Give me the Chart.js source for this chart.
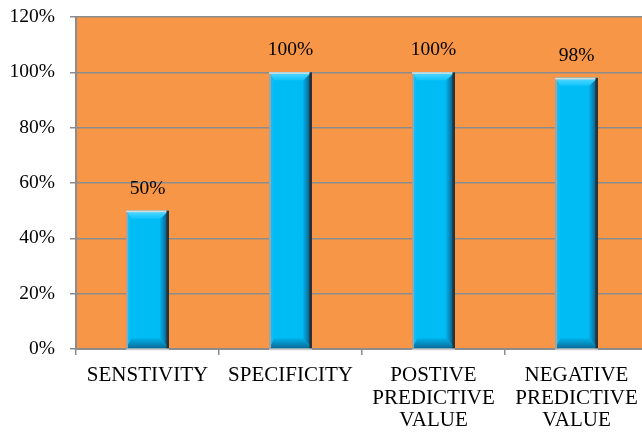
<!DOCTYPE html>
<html>
<head>
<meta charset="utf-8">
<script src="https://cdn.jsdelivr.net/npm/chart.js@4.4.1/dist/chart.umd.min.js"></script>
<style>
  html, body { margin: 0; padding: 0; background: #fff; overflow: hidden; }
  #wrap { width: 648px; height: 437px; }
</style>
</head>
<body>
<div id="wrap"><canvas id="c" width="648" height="437"></canvas></div>
<script>
// Diagnostic accuracy measures (percent)
const categories = [
  ['SENSTIVITY'],
  ['SPECIFICITY'],
  ['POSTIVE', 'PREDICTIVE', 'VALUE'],
  ['NEGATIVE', 'PREDICTIVE', 'VALUE']
];
const values = [50, 100, 100, 98];
const yTicks = [0, 20, 40, 60, 80, 100, 120];

const FONT = '"Liberation Serif", "Times New Roman", serif';
const GRID = '#8c8c8c';

// orange plot background
const plotBg = {
  id: 'plotBg',
  beforeDraw(chart) {
    const { ctx, chartArea: a } = chart;
    ctx.save();
    ctx.fillStyle = '#F79646';
    ctx.fillRect(a.left, a.top, a.right - a.left, a.bottom - a.top);
    ctx.restore();
  }
};

// bevelled look for the columns, plus value labels above them
const bevel = {
  id: 'bevel',
  afterDatasetsDraw(chart) {
    const ctx = chart.ctx;
    const meta = chart.getDatasetMeta(0);
    meta.data.forEach((bar) => {
      const p = bar.getProps(['x', 'y', 'base', 'width'], true);
      const x0 = p.x - p.width / 2, x1 = p.x + p.width / 2;
      const y = p.y, b = p.base;
      const dt = 8, dr = 9, db = 10, dl = 5;
      ctx.save();
      // light shadow strip beneath the column
      ctx.fillStyle = 'rgba(205,205,205,1)';
      ctx.fillRect(x0, b, x1 - x0, 2);
      let g;
      // right face
      ctx.beginPath();
      ctx.moveTo(x1, y); ctx.lineTo(x1 - dr, y + dt); ctx.lineTo(x1 - dr, b - db); ctx.lineTo(x1, b); ctx.closePath();
      g = ctx.createLinearGradient(x1 - dr, 0, x1, 0);
      g.addColorStop(0, '#00b4ee'); g.addColorStop(0.55, '#0a78a8'); g.addColorStop(1, '#163a4e');
      ctx.fillStyle = g; ctx.fill();
      // top face
      ctx.beginPath();
      ctx.moveTo(x0, y); ctx.lineTo(x1, y); ctx.lineTo(x1 - dr, y + dt); ctx.lineTo(x0 + dl, y + dt); ctx.closePath();
      g = ctx.createLinearGradient(0, y, 0, y + dt);
      g.addColorStop(0, '#5ad8ff'); g.addColorStop(1, '#10c4fb');
      ctx.fillStyle = g; ctx.fill();
      // bottom face
      ctx.beginPath();
      ctx.moveTo(x0, b); ctx.lineTo(x1, b); ctx.lineTo(x1 - dr, b - db); ctx.lineTo(x0 + dl, b - db); ctx.closePath();
      g = ctx.createLinearGradient(0, b - db, 0, b);
      g.addColorStop(0, '#00b2ea'); g.addColorStop(1, '#0a6c98');
      ctx.fillStyle = g; ctx.fill();
      // left face
      ctx.beginPath();
      ctx.moveTo(x0, y); ctx.lineTo(x0 + dl, y + dt); ctx.lineTo(x0 + dl, b - db); ctx.lineTo(x0, b); ctx.closePath();
      g = ctx.createLinearGradient(x0, 0, x0 + dl, 0);
      g.addColorStop(0, '#22c2f6'); g.addColorStop(1, '#00bcf4');
      ctx.fillStyle = g; ctx.fill();
      // grey rim on the left, pale rim on top, dark rim on the right
      ctx.fillStyle = '#a3a3a3';
      ctx.fillRect(x0, y, 2, b - y);
      ctx.fillStyle = '#d8dcdd';
      ctx.fillRect(x0, y, x1 - x0 - 2, 1.5);
      ctx.fillStyle = '#2a3236';
      ctx.fillRect(x1 - 2.5, y, 2.5, b - y);
      ctx.restore();
    });
  },
  afterDraw(chart) {
    const ctx = chart.ctx;
    const meta = chart.getDatasetMeta(0);
    ctx.save();
    ctx.font = '19.5px ' + FONT;
    ctx.fillStyle = '#000';
    ctx.textAlign = 'center';
    ctx.textBaseline = 'alphabetic';
    meta.data.forEach((bar, i) => {
      ctx.fillText(values[i] + '%', bar.x, bar.y - 17);
    });
    ctx.restore();
  }
};

new Chart(document.getElementById('c'), {
  type: 'bar',
  data: {
    labels: categories,
    datasets: [{
      data: values,
      backgroundColor: '#00BCF4',
      borderWidth: 0,
      barPercentage: 0.3,
      categoryPercentage: 1
    }]
  },
  options: {
    responsive: false,
    animation: false,
    layout: { padding: { top: 17, right: 0, left: 0, bottom: 0 } },
    plugins: { legend: { display: false }, tooltip: { enabled: false } },
    scales: {
      y: {
        min: 0, max: 120,
        afterBuildTicks(axis) { axis.ticks = yTicks.map(v => ({ value: v })); },
        afterFit(axis) { axis.width = 76; axis.paddingTop = 0; axis.paddingBottom = 0; },
        ticks: {
          callback: v => v + '%',
          color: '#000',
          padding: 15,
          font: { family: FONT, size: 19.5 }
        },
        grid: { color: GRID, lineWidth: 1.5, tickLength: 6, tickColor: GRID },
        border: { color: GRID, width: 2 }
      },
      x: {
        afterFit(axis) { axis.height = 88; axis.paddingLeft = 0; axis.paddingRight = 0; },
        ticks: {
          color: '#000',
          padding: 9,
          maxRotation: 0,
          autoSkip: false,
          font: { family: FONT, size: 21, lineHeight: 1.08 }
        },
        grid: { offset: true, drawOnChartArea: false, color: GRID, lineWidth: 1.5, tickLength: 6 },
        border: { color: GRID, width: 2 }
      }
    }
  },
  plugins: [plotBg, bevel]
});
</script>
</body>
</html>
